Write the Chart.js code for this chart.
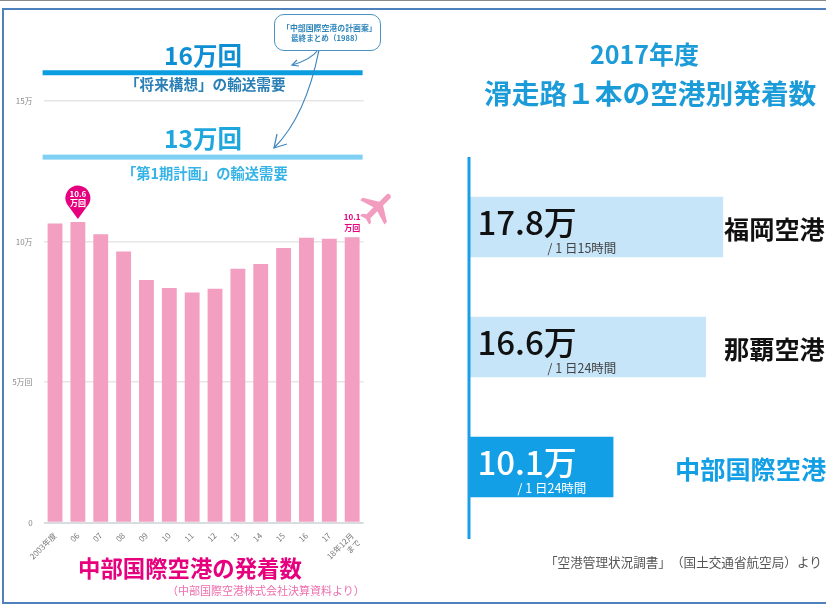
<!DOCTYPE html>
<html lang="ja">
<head>
<meta charset="utf-8">
<title>中部国際空港の発着数</title>
<script src="https://cdn.jsdelivr.net/npm/chart.js@4/dist/chart.umd.min.js"></script>
<style>
    html, body { margin: 0; padding: 0; background: #fff; }
    body { width: 826px; height: 604px; position: relative; overflow: hidden; font-family: "Noto Sans CJK JP", "Noto Sans", sans-serif; text-spacing-trim: space-all; }
    canvas { position: absolute; top: 0; }
    #topLine { position: absolute; left: 0; top: 0; width: 826px; height: 1px; background: #8a8a8a; }
    #frame { position: absolute; left: 2px; top: 8px; width: 840px; height: 592px; border: 2px solid #4f81bd; }
    .txt { position: absolute; white-space: nowrap; line-height: 1; }
    .b { font-weight: 700; }
    #callout { position: absolute; left: 274px; top: 14px; width: 105px; height: 35px; border: 1.5px solid #4a93c4; border-radius: 10px; background: #fff; }
    svg { position: absolute; left: 0; top: 0; }
</style>
</head>
<body>
<div id="topLine"></div>
<div id="frame"></div>
<canvas id="movementsChart" width="440" height="604" style="left:0"></canvas>
<canvas id="airportChart" width="386" height="604" style="left:440px"></canvas>

<svg width="826" height="604" fill="none">
    <path d="M318 50 C312 58 303 62 292 65" stroke="#3f86bd" stroke-width="1.2"/>
    <path d="M297 60 L292 65 L299 66" stroke="#3f86bd" stroke-width="1.2"/>
    <path d="M319 50 C311 90 297 125 274 148" stroke="#3f86bd" stroke-width="1.2"/>
    <path d="M277 134 L274 148 L287 144" stroke="#3f86bd" stroke-width="1.2"/>
    <g transform="translate(378 208) rotate(45) scale(1.8) translate(-12 -12)">
        <path fill="#f29cc0" d="M21 16v-2l-8-5V3.5c0-.83-.67-1.5-1.5-1.5S10 2.67 10 3.5V9l-8 5v2l8-2.5V19l-2 1.5V22l3.5-1 3.5 1v-1.5L13 19v-5.5l8 2.5z"/>
    </g>
</svg>

<div id="callout"></div>
<div class="txt b" style="left:282px;top:24px;font-size:7.9px;color:#2f86bb">「中部国際空港の計画案」</div>
<div class="txt b" style="left:291px;top:34px;font-size:7.6px;color:#2f86bb">最終まとめ（1988）</div>

<div class="txt b" style="left:164px;top:43px;font-size:24.5px;color:#0f8fd3">16万回</div>
<div class="txt b" style="left:125px;top:77px;font-size:14.6px;color:#2a7fb5">「将来構想」の輸送需要</div>
<div class="txt b" style="left:164px;top:126px;font-size:24.5px;color:#1ea7dd">13万回</div>
<div class="txt b" style="left:122px;top:166px;font-size:14.3px;color:#35b3e6">「第1期計画」の輸送需要</div>

<div class="txt b" style="left:78px;top:556px;font-size:22.4px;color:#e6007e">中部国際空港の発着数</div>
<div class="txt" style="left:167px;top:585px;font-size:11px;color:#ee6fae">（中部国際空港株式会社決算資料より）</div>

<div class="txt b" style="left:590px;top:41px;font-size:25px;color:#1b9bd7">2017年度</div>
<div class="txt b" style="left:484px;top:79px;font-size:27.7px;color:#1b9bd7">滑走路１本の空港別発着数</div>
<div class="txt" style="left:545px;top:556px;font-size:12.6px;color:#555">「空港管理状況調書」（国土交通省航空局）より</div>

<script>
// LEFT CHART DATA (万回)
const fiscalYears = ['2003年度', '06', '07', '08', '09', '10', '11', '12', '13', '14', '15', '16', '17', ['18年12月', 'まで']];
const movements = [10.64, 10.69, 10.26, 9.64, 8.63, 8.35, 8.19, 8.32, 9.03, 9.2, 9.77, 10.13, 10.1, 10.15];
const axisTickNames = { 0: '0', 5: '5万回', 10: '10万', 15: '15万' };
const demandLevels = [16, 13];
const demandColors = ['#0a9de0', '#7fd0f2'];
const peakLabel = ['10.6', '万回'];
const latestLabel = ['10.1', '万回'];

// RIGHT CHART DATA (万回)
const airports = ['福岡空港', '那覇空港', '中部国際空港'];
const airportMovements = [17.8, 16.6, 10.1];
const operatingHours = ['/ 1 日15時間', '/ 1 日24時間', '/ 1 日24時間'];
const airportBarColors = ['#c6e5f9', '#c6e5f9', '#129fe6'];
const airportNameColors = ['#111', '#111', '#129fe6'];
const airportNameX = [724, 724, 675];
const FONT = '"Noto Sans CJK JP", "Noto Sans", sans-serif';

// reference lines and bar callouts on the left chart
const demandPlugin = {
    id: 'demandLines',
    afterDatasetsDraw(chart) {
        const { ctx, chartArea, scales } = chart;
        ctx.save();
        demandLevels.forEach((level, i) => {
            const y = scales.y.getPixelForValue(level);
            ctx.fillStyle = demandColors[i];
            ctx.fillRect(chartArea.left - 1, y - 2.5, chartArea.width, 5);
        });

        const bars = chart.getDatasetMeta(0).data;
        // pin over the peak year
        const peak = bars[1];
        const tipY = peak.y - 3;
        const cy = tipY - 21;
        ctx.fillStyle = '#e6007e';
        ctx.beginPath();
        ctx.arc(peak.x, cy, 12.5, Math.PI * 0.85, Math.PI * 0.15);
        ctx.lineTo(peak.x, tipY);
        ctx.closePath();
        ctx.fill();
        ctx.fillStyle = '#fff';
        ctx.textAlign = 'center';
        ctx.textBaseline = 'middle';
        ctx.font = '700 8px ' + FONT;
        ctx.fillText(peakLabel[0], peak.x, cy - 4.5);
        ctx.fillText(peakLabel[1], peak.x, cy + 5);

        // plain label over the last bar
        const last = bars[bars.length - 1];
        ctx.fillStyle = '#e6007e';
        ctx.fillText(latestLabel[0], last.x, last.y - 20);
        ctx.fillText(latestLabel[1], last.x, last.y - 9.5);
        ctx.restore();
    }
};

new Chart(document.getElementById('movementsChart'), {
    type: 'bar',
    data: {
        labels: fiscalYears,
        datasets: [{ data: movements, backgroundColor: '#f29fc1', barPercentage: 0.65, categoryPercentage: 1 }]
    },
    options: {
        responsive: false,
        animation: false,
        layout: { padding: { top: 16.5, right: 76.4, left: 0, bottom: 0 } },
        plugins: { legend: { display: false }, tooltip: { enabled: false } },
        scales: {
            x: {
                grid: { display: false },
                border: { display: false },
                afterFit(s) { s.height = 81.3; },
                ticks: { minRotation: 45, maxRotation: 45, autoSkip: false, padding: 0, color: '#777', font: { size: 8, family: FONT } }
            },
            y: {
                min: 0,
                max: 18,
                afterFit(s) { s.width = 43.6; },
                border: { display: false },
                grid: {
                    drawTicks: false,
                    lineWidth: ctx => ctx.tick.value === 0 ? 2 : 1.5,
                    color: ctx => ctx.tick.value === 0 ? '#d8dde2' : '#e6e6e6'
                },
                ticks: {
                    stepSize: 5,
                    padding: 11,
                    color: '#888',
                    font: { size: 8, family: FONT },
                    callback: v => axisTickNames[v]
                }
            }
        }
    },
    plugins: [demandPlugin]
});

// axis line, values and airport names on the right chart
const airportPlugin = {
    id: 'airportLabels',
    afterDatasetsDraw(chart) {
        const { ctx, chartArea } = chart;
        ctx.save();
        ctx.fillStyle = '#1a9fe6';
        ctx.fillRect(chartArea.left - 2, chartArea.top - 10, 3, chartArea.height + 22);

        chart.getDatasetMeta(0).data.forEach((bar, i) => {
            ctx.textBaseline = 'middle';
            ctx.textAlign = 'left';
            ctx.fillStyle = i === 2 ? '#fff' : '#111';
            ctx.font = '500 33px ' + FONT;
            ctx.fillText(airportMovements[i].toFixed(1) + '万', chartArea.left + 8, bar.y - 5);
            ctx.fillStyle = i === 2 ? '#fff' : '#444';
            ctx.font = '12.5px ' + FONT;
            ctx.fillText(operatingHours[i], chartArea.left + (i === 2 ? 48 : 78), bar.y + 21);
            ctx.fillStyle = airportNameColors[i];
            ctx.font = '700 25.2px ' + FONT;
            ctx.fillText(airports[i], airportNameX[i] - 440, bar.y + 2);
        });
        ctx.restore();
    }
};

new Chart(document.getElementById('airportChart'), {
    type: 'bar',
    data: {
        labels: airports,
        datasets: [{ data: airportMovements, backgroundColor: airportBarColors, barPercentage: 0.504, categoryPercentage: 1 }]
    },
    options: {
        indexAxis: 'y',
        responsive: false,
        animation: false,
        layout: { padding: { left: 29.5, top: 167, right: 71.5, bottom: 77 } },
        plugins: { legend: { display: false }, tooltip: { enabled: false } },
        scales: {
            x: { display: false, min: 0, max: 20 },
            y: { display: false }
        }
    },
    plugins: [airportPlugin]
});
</script>
</body>
</html>
